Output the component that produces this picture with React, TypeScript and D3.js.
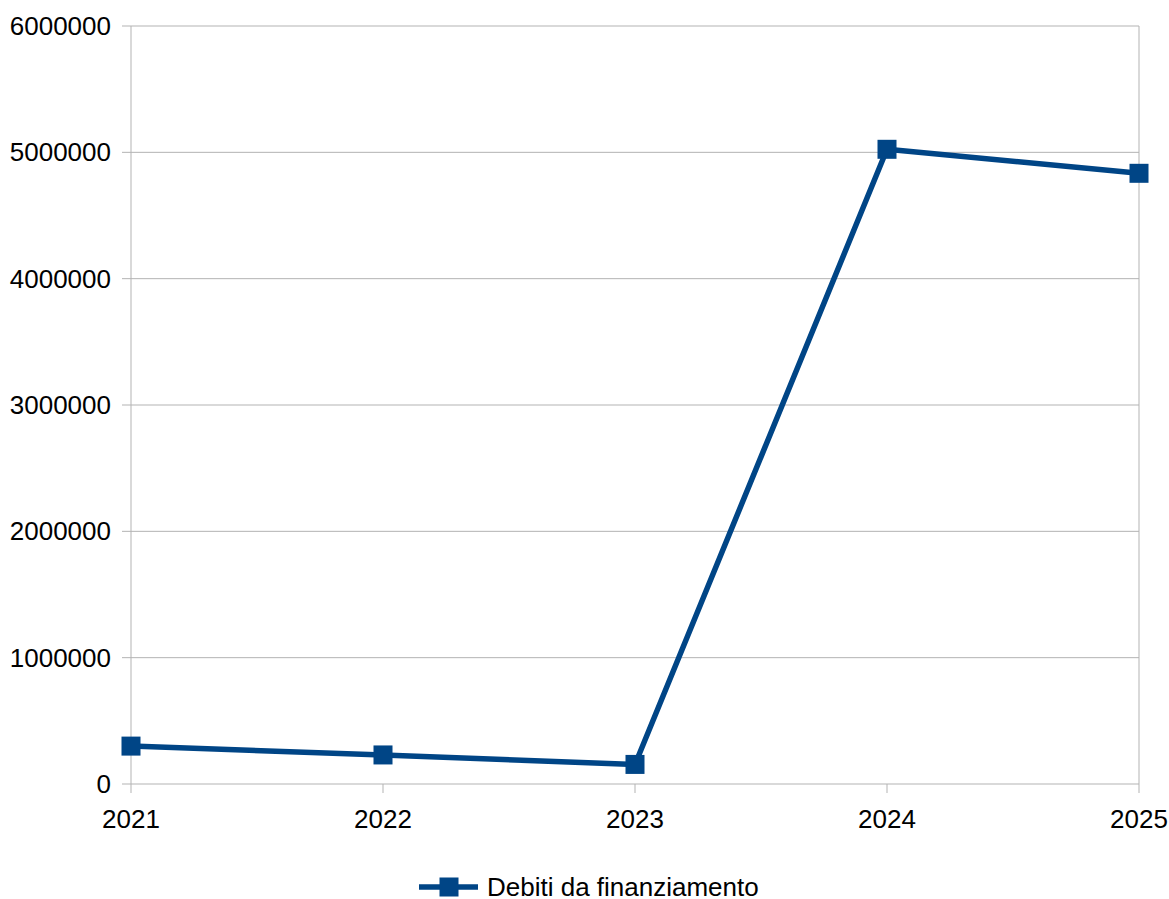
import React from "react";
import * as d3 from "d3";

const years = ["2021", "2022", "2023", "2024", "2025"];
const debiti = [300000, 230000, 155000, 5024000, 4834000];
const yTicks = [0, 1000000, 2000000, 3000000, 4000000, 5000000, 6000000];
const seriesName = "Debiti da finanziamento";

const W = 1169;
const H = 899;
const left = 131;
const right = 1139;
const top = 26;
const bottom = 784;
const color = "#004586";
const grid = "#b3b3b3";
const font = "'Liberation Sans', Arial, sans-serif";
const fs = 26;

export default function App() {
  const x = d3.scalePoint<string>().domain(years).range([left, right]);
  const y = d3.scaleLinear().domain([0, 6000000]).range([bottom, top]);
  const line = d3
    .line<number>()
    .x((_, i) => x(years[i]) as number)
    .y((d) => y(d));
  const ms = 19;

  return (
    <svg
      width={W}
      height={H}
      style={{ position: "absolute", left: 0, top: 0, background: "#fff" }}
      fontFamily={font}
    >
      {yTicks.map((t) => (
        <g key={t}>
          <line x1={left - 9} x2={right} y1={y(t)} y2={y(t)} stroke={grid} strokeWidth={1} />
          <text x={111} y={y(t)} dy="0.35em" textAnchor="end" fontSize={fs} fill="#000">
            {t}
          </text>
        </g>
      ))}
      <line x1={left} x2={left} y1={top} y2={bottom} stroke={grid} strokeWidth={1} />
      <line x1={right} x2={right} y1={top} y2={bottom} stroke={grid} strokeWidth={1} />
      {years.map((yr) => (
        <g key={yr}>
          <line
            x1={x(yr)}
            x2={x(yr)}
            y1={bottom}
            y2={bottom + 9}
            stroke={grid}
            strokeWidth={1}
          />
          <text x={x(yr)} y={828} textAnchor="middle" fontSize={fs} fill="#000">
            {yr}
          </text>
        </g>
      ))}
      <path d={line(debiti) || ""} fill="none" stroke={color} strokeWidth={5.5} strokeLinejoin="round" />
      {debiti.map((v, i) => (
        <rect
          key={i}
          x={(x(years[i]) as number) - ms / 2}
          y={y(v) - ms / 2}
          width={ms}
          height={ms}
          fill={color}
        />
      ))}
      <g>
        <line x1={419} x2={478} y1={887} y2={887} stroke={color} strokeWidth={5.5} />
        <rect x={449 - ms / 2} y={887 - ms / 2} width={ms} height={ms} fill={color} />
        <text x={487} y={887} dy="0.35em" fontSize={fs} fill="#000">
          {seriesName}
        </text>
      </g>
    </svg>
  );
}
